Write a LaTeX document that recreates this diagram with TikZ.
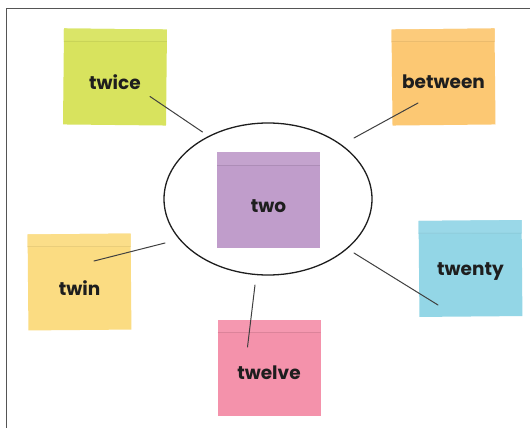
\documentclass[tikz,border=0pt]{standalone}
\usepackage{fontspec}
\setmainfont{Poppins}
\usetikzlibrary{calc}
\definecolor{cTwice}{HTML}{D8E35E}
\definecolor{cBetween}{HTML}{FCC873}
\definecolor{cTwo}{HTML}{C09DCB}
\definecolor{cTwin}{HTML}{FBDC82}
\definecolor{cTwelve}{HTML}{F492AB}
\definecolor{cTwenty}{HTML}{93D6E6}
\definecolor{ink}{HTML}{1E1E1E}
\definecolor{frame}{HTML}{555555}
\begin{document}
\begin{tikzpicture}[x=1pt,y=-1pt,
  note/.style={rectangle, draw=none, fill=#1, minimum width=103pt, minimum height=96pt, inner sep=0pt,
    path picture={
      \fill[#1!94!white] (path picture bounding box.north west) rectangle ([yshift=-13pt]path picture bounding box.north east);
      \draw[#1!90!black, line width=0.5pt] ([yshift=-13pt]path picture bounding box.north west) -- ([yshift=-13pt]path picture bounding box.north east);
    }},
  word/.style={font=\fontsize{18.5}{20}\selectfont\bfseries, text=ink, yshift=-5pt},
  link/.style={draw=ink!85, line width=1pt, line cap=round}]
\useasboundingbox (0,0) rectangle (530,428);
\fill[white] (0,0) rectangle (530,428);
% frame
\coordinate (fTL) at (6.5,9);
\coordinate (fTR) at (530,9);
\coordinate (fBL) at (6.5,428);
\draw[frame, line width=1pt] (fBL) -- (fTL) -- (fTR);
% ellipse
\draw[ink, line width=1.3pt] (268,199) ellipse [x radius=104, y radius=76];
% notes
\node[note=cTwice, rotate=-0.6] (twice) at (115,77) {};
\node[note=cBetween, rotate=0.6] (between) at (443.5,77) {};
\node[note=cTwo] (two) at (268.5,200) {};
\node[note=cTwin, rotate=0.5] (twin) at (79.5,282) {};
\node[note=cTwelve] (twelve) at (269,367.5) {};
\node[note=cTwenty, rotate=0.5] (twenty) at (470.5,268.5) {};
% words
\node[word] (wTwice) at (twice.center) {twice};
\node[word] (wBetween) at (between.center) {between};
\node[word, yshift=-1pt] (wTwo) at (two.center) {two};
\node[word, yshift=-1pt] (wTwin) at (twin.center) {twin};
\node[word, yshift=-0.5pt] (wTwelve) at (twelve.center) {twelve};
\node[word, yshift=2pt] (wTwenty) at (twenty.center) {twenty};
% connector ends
\coordinate (aTwice) at (150,96.5);
\coordinate (bTwice) at (202.5,132);
\coordinate (aBetween) at (418,103);
\coordinate (bBetween) at (354,138);
\coordinate (aTwin) at (94,261);
\coordinate (bTwin) at (165,243);
\coordinate (aTwelve) at (247.5,347);
\coordinate (bTwelve) at (255,285);
\coordinate (aTwenty) at (438,305);
\coordinate (bTwenty) at (354,253);
\draw[link] (aTwice) -- (bTwice);
\draw[link] (aBetween) -- (bBetween);
\draw[link] (aTwin) -- (bTwin);
\draw[link] (aTwelve) -- (bTwelve);
\draw[link] (aTwenty) -- (bTwenty);
\end{tikzpicture}
\end{document}
